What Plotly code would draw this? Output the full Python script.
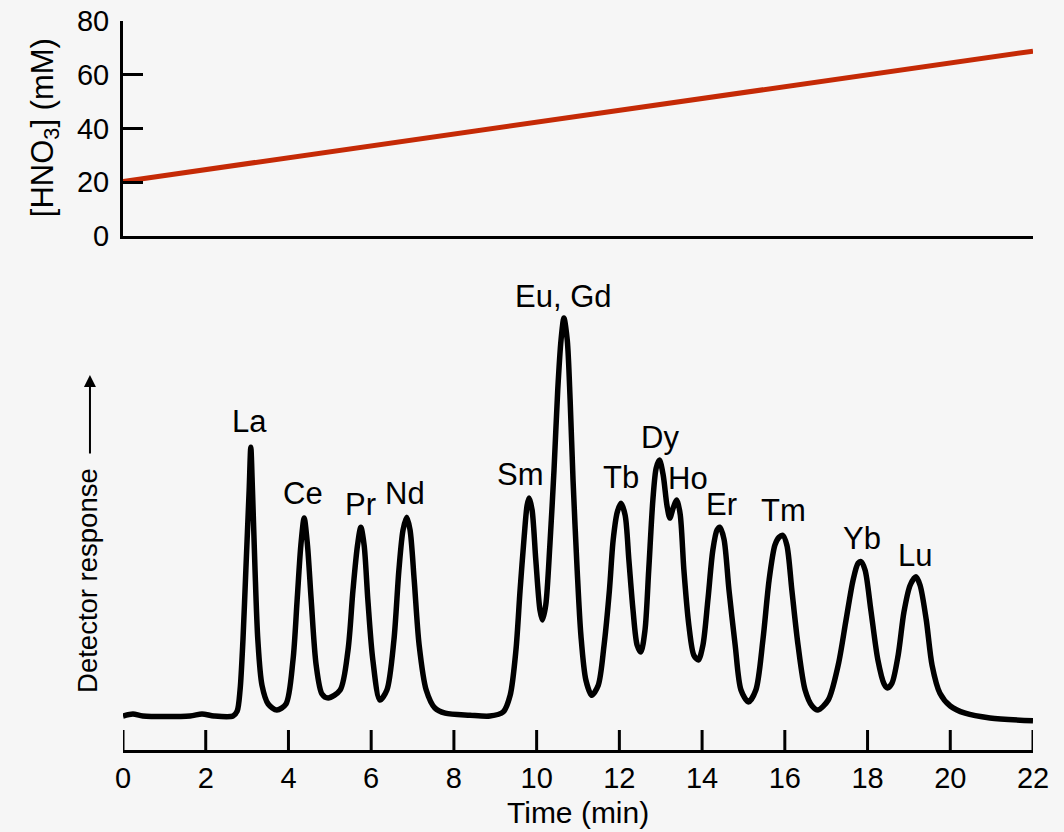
import plotly.graph_objects as go

# ---- Data ----
# HNO3 gradient (top panel)
gradient_time = [0.0, 22.0]
gradient_conc = [20.3, 68.8]

# Chromatogram (bottom panel), arbitrary detector units
chrom_time = [
    0.00, 0.24, 0.48, 1.62, 1.91, 2.20, 2.66, 2.76, 2.83, 2.90, 2.97, 3.05, 3.09, 3.13, 3.19, 3.26,
    3.36, 3.51, 3.72, 3.94, 4.11, 4.21, 4.30, 4.38, 4.46, 4.55, 4.67, 4.81, 4.96, 5.25, 5.44, 5.56,
    5.67, 5.75, 5.83, 5.92, 6.04, 6.21, 6.38, 6.55, 6.67, 6.77, 6.86, 6.94, 7.04, 7.16, 7.33, 7.54,
    7.79, 8.39, 8.87, 9.19, 9.36, 9.50, 9.60, 9.70, 9.77, 9.82, 9.89, 9.98, 10.08, 10.14, 10.22,
    10.32, 10.42, 10.51, 10.59, 10.66, 10.74, 10.81, 10.88, 10.98, 11.07, 11.19, 11.33, 11.49,
    11.63, 11.76, 11.85, 11.95, 12.04, 12.14, 12.23, 12.33, 12.43, 12.52, 12.62, 12.71, 12.81,
    12.89, 12.97, 13.06, 13.15, 13.22, 13.30, 13.39, 13.47, 13.56, 13.68, 13.80, 13.91, 14.02,
    14.14, 14.26, 14.36, 14.43, 14.53, 14.65, 14.80, 14.94, 15.12, 15.30, 15.47, 15.62, 15.76,
    15.86, 15.95, 16.05, 16.17, 16.32, 16.49, 16.66, 16.80, 17.05, 17.29, 17.48, 17.65, 17.77,
    17.84, 17.94, 18.08, 18.25, 18.40, 18.48, 18.59, 18.74, 18.88, 19.03, 19.17, 19.27, 19.42,
    19.56, 19.75, 20.00, 20.36, 20.96, 22.00,
]
chrom_response = [
    0.0, 0.5, 0.0, 0.0, 0.5, 0.0, 0.0, 1.2, 6.5, 19.0, 36.5, 56.5, 67.2, 56.5, 37.2, 19.0,
    7.7, 3.0, 1.5, 3.0, 14.0, 29.0, 42.7, 49.5, 42.7, 29.0, 12.7, 5.5, 4.5, 6.5, 16.5, 31.5,
    42.7, 47.2, 42.7, 29.0, 14.0, 4.0, 6.5, 19.0, 36.5, 46.5, 49.7, 46.5, 34.0, 17.7, 6.5, 2.0,
    0.7, 0.2, 0.0, 1.0, 5.2, 16.5, 31.5, 45.0, 52.7, 54.5, 51.5, 39.0, 26.5, 24.0, 27.7,
    42.7, 61.5, 81.5, 94.0, 99.5, 94.0, 79.0, 59.0, 36.5, 20.2, 9.0, 5.2, 7.7,
    17.7, 31.5, 44.0, 51.0, 53.2, 50.2, 39.0, 26.5, 17.7, 16.0, 21.5, 36.5, 54.0,
    62.0, 64.0, 60.2, 52.7, 49.5, 52.0, 54.0, 50.5, 36.5, 22.7, 15.2, 14.0, 17.7,
    29.0, 41.5, 46.5, 47.2, 44.2, 31.5, 17.7, 6.5, 3.5, 6.5, 19.0, 34.0, 42.7,
    44.7, 45.2, 42.7, 31.5, 17.7, 6.5, 2.5, 1.5, 4.0, 12.7, 24.0, 34.0, 38.2,
    38.6, 36.5, 26.5, 14.0, 8.0, 7.0, 8.2, 15.2, 26.0, 32.7, 34.8, 32.7, 24.0,
    12.7, 5.7, 2.5, 0.7, -0.5, -1.2,
]

# Peak labels
peak_labels = ["La", "Ce", "Pr", "Nd", "Sm", "Eu, Gd", "Tb", "Dy", "Ho", "Er", "Tm", "Yb", "Lu"]
label_time = [3.07, 4.35, 5.75, 6.82, 9.62, 10.66, 12.04, 12.98, 13.66, 14.46, 15.98, 17.87, 19.15]
label_response = [73.75, 55.75, 53.0, 55.75, 60.5, 105.0, 59.75, 69.75, 59.5, 53.0, 51.5, 44.5, 40.25]

x_ticks = list(range(0, 23, 2))
conc_ticks = [0, 20, 40, 60, 80]

FONT = "Liberation Sans, Arial, sans-serif"
BG = "#f6f6f6"
TICK_FRAC = 20 / 729  # 20 px tick length as a fraction of the plot height

fig = go.Figure()

fig.add_trace(go.Scatter(
    x=gradient_time, y=gradient_conc, xaxis="x2", yaxis="y2", mode="lines",
    line=dict(color="#c52a06", width=5), showlegend=False, hoverinfo="skip",
))

fig.add_trace(go.Scatter(
    x=chrom_time, y=chrom_response, xaxis="x", yaxis="y", mode="lines",
    line=dict(color="black", width=5.5, shape="spline", smoothing=0.8),
    showlegend=False, hoverinfo="skip",
))

annotations = []
for lab, t, r in zip(peak_labels, label_time, label_response):
    annotations.append(dict(
        x=t, y=r, xref="x", yref="y", text=lab, showarrow=False,
        font=dict(family=FONT, size=31, color="black"),
        xanchor="center", yanchor="middle",
    ))

# axis titles
annotations.append(dict(
    x=0.5, y=-0.0864, xref="paper", yref="paper", text="Time (min)", showarrow=False,
    font=dict(family=FONT, size=30, color="black"), xanchor="center", yanchor="middle",
))
annotations.append(dict(
    x=-0.0857, y=0.853, xref="paper", yref="paper", text="[HNO<sub>3</sub>] (mM)",
    showarrow=False, textangle=-90,
    font=dict(family=FONT, size=31, color="black"), xanchor="center", yanchor="middle",
))
annotations.append(dict(
    x=-0.0385, y=0.2332, xref="paper", yref="paper", text="Detector response",
    showarrow=False, textangle=-90,
    font=dict(family=FONT, size=27.5, color="black"), xanchor="center", yanchor="middle",
))
annotations.append(dict(
    x=-0.0363, y=0.5144, xref="paper", yref="paper", text="", showarrow=True,
    ax=0, ay=80, arrowhead=2, arrowsize=1.2, arrowwidth=2, arrowcolor="black", standoff=0,
))

# upward tick marks on the time axis, placed through the x scale
shapes = [
    dict(type="line", xref="x", yref="paper", x0=t, x1=t, y0=0, y1=TICK_FRAC,
         line=dict(color="black", width=3), layer="above")
    for t in x_ticks
]

axis_common = dict(showgrid=False, zeroline=False, linecolor="black", linewidth=3,
                   tickcolor="black", tickwidth=3, ticklen=20,
                   tickfont=dict(family=FONT, size=29, color="black"))
no_font = {k: v for k, v in axis_common.items() if k != "tickfont"}

fig.update_layout(
    width=1064, height=832,
    margin=dict(l=123, r=31, t=21, b=82, autoexpand=False),
    paper_bgcolor=BG, plot_bgcolor=BG,
    xaxis=dict(domain=[0, 1], range=[0, 22], anchor="y", showline=True, ticks="",
               tickvals=x_ticks, **axis_common),
    yaxis=dict(domain=[0, 0.635], range=[-8.5, 107.25], anchor="x", visible=False),
    xaxis2=dict(domain=[0, 1], range=[0, 22], anchor="y2", showline=True, ticks="",
                showticklabels=False, **no_font),
    yaxis2=dict(domain=[0.7051, 1], range=[0, 80], anchor="x2", showline=True, ticks="inside",
                tickvals=conc_ticks, ticklabelstandoff=5, automargin=False, **axis_common),
    annotations=annotations,
    shapes=shapes,
)

fig.write_html(
    "out.html",
    config={"displayModeBar": False},
    post_script="document.body.style.margin='0px';document.body.style.background='%s';" % BG,
)
